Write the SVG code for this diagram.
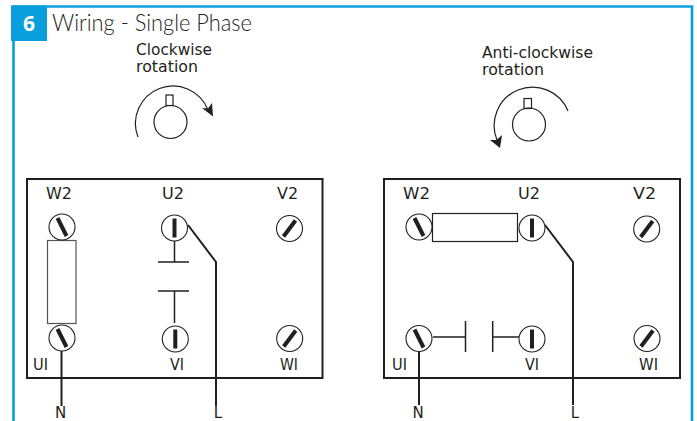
<svg xmlns="http://www.w3.org/2000/svg" width="697" height="421" viewBox="0 0 697 421">
<style>
.bx{fill:none;stroke:#231f20;stroke-width:2}
.w{fill:none;stroke:#231f20;stroke-width:2}
.t{fill:none;stroke:#231f20;stroke-width:1.2}
.sc{fill:#fff;stroke:#231f20;stroke-width:1.1}
.sl{stroke:#231f20;stroke-width:4;fill:none}
.ar{fill:#231f20}
text{font-family:"DejaVu Sans","Liberation Sans",sans-serif;fill:#231f20}
.lb{font-size:15px}
.cap{font-size:15.500px}
</style>
<defs>
<g id="sb"><circle class="sc" r="13"/><line class="sl" x1="-4.500" y1="-9" x2="4.500" y2="9"/></g>
<g id="sv"><circle class="sc" r="13"/><line class="sl" x1="0" y1="-9.500" x2="0" y2="9.500"/></g>
<g id="sf"><circle class="sc" r="13"/><line class="sl" x1="-6" y1="8" x2="6" y2="-8"/></g>
</defs>
<rect width="697" height="421" fill="#fff"/>
<g id="frame"><path d="M13.500 421V6.500H692V421" fill="none" stroke="#0a9fdc" stroke-width="2.600"/>
<rect x="11" y="5.500" width="36" height="35.500" fill="#0a9fdc"/>
<text x="29" y="31" font-size="21" font-weight="700" text-anchor="middle" style="font-family:'Open Sans',sans-serif;fill:#fff">6</text>
<text x="52" y="31" font-size="23" font-weight="300" textLength="200" lengthAdjust="spacingAndGlyphs" style="font-family:'Lato',sans-serif">Wiring - Single Phase</text></g>
<g id="cw"><text class="cap" x="136" y="55" textLength="76" lengthAdjust="spacingAndGlyphs">Clockwise</text><text class="cap" x="136" y="72" textLength="62" lengthAdjust="spacingAndGlyphs">rotation</text>
<circle class="t" cx="170.500" cy="122" r="16.500"/><rect class="t" x="166" y="95" width="7" height="10.500"/>
<path class="t" d="M138 137A37 37 0 1 1 208 110"/>
<path class="ar" d="M213 116.500L212 103L208 108.500L202 108Z"/></g>
<g id="acw"><text class="cap" x="482" y="58" textLength="111" lengthAdjust="spacingAndGlyphs">Anti-clockwise</text><text class="cap" x="482" y="75" textLength="62" lengthAdjust="spacingAndGlyphs">rotation</text>
<circle class="t" cx="529" cy="124.500" r="16.500"/><rect class="t" x="524" y="98.500" width="7.500" height="10"/>
<path class="t" d="M568 111A37 37 0 0 0 497 140"/>
<path class="ar" d="M500 148L490 140L496.500 140L502 135Z"/></g>
<g id="box-left"><rect class="bx" x="27" y="179" width="295.500" height="199"/>
<text class="lb" x="46" y="199" textLength="26" lengthAdjust="spacingAndGlyphs">W2</text><text class="lb" x="162" y="199" textLength="22" lengthAdjust="spacingAndGlyphs">U2</text><text class="lb" x="277" y="199" textLength="21" lengthAdjust="spacingAndGlyphs">V2</text>
<text class="lb" x="33" y="370" textLength="15" lengthAdjust="spacingAndGlyphs">UI</text><text class="lb" x="170" y="370" textLength="14" lengthAdjust="spacingAndGlyphs">VI</text><text class="lb" x="280" y="370" textLength="18" lengthAdjust="spacingAndGlyphs">WI</text></g>
<g id="box-right"><rect class="bx" x="384" y="179" width="296" height="199"/>
<text class="lb" x="403" y="199" textLength="27" lengthAdjust="spacingAndGlyphs">W2</text><text class="lb" x="518" y="199" textLength="22" lengthAdjust="spacingAndGlyphs">U2</text><text class="lb" x="633" y="199" textLength="23" lengthAdjust="spacingAndGlyphs">V2</text>
<text class="lb" x="392" y="370" textLength="15" lengthAdjust="spacingAndGlyphs">UI</text><text class="lb" x="525" y="370" textLength="14" lengthAdjust="spacingAndGlyphs">VI</text><text class="lb" x="639" y="370" textLength="19" lengthAdjust="spacingAndGlyphs">WI</text></g>
<g id="connectors">
<rect x="47.500" y="240.500" width="28.500" height="83" fill="none" stroke="#555" stroke-width="1.200"/>
<path class="t" style="stroke-width:1.500" d="M174.500 241V262M158 262H189M158 291H189M174.500 291V323"/>
<path class="w" d="M188 225L216 262V406M61.500 351V406"/>
<rect class="t" x="432.500" y="213.500" width="85" height="28"/>
<path class="t" style="stroke-width:1.500" d="M433 337H465.500M465.500 321V352M492.700 321V352M492.700 337H519"/>
<path class="w" d="M545 225L573 262V405M419 351V405"/>
</g>
<use id="l-w2" href="#sb" x="62" y="227"/><use id="l-u2" href="#sv" x="174.500" y="228"/><use id="l-v2" href="#sf" x="289.500" y="228.500"/>
<use id="l-u1" href="#sb" x="62" y="338"/><use id="l-v1" href="#sv" x="175.300" y="339"/><use id="l-w1" href="#sf" x="289.700" y="338.500"/>
<use id="r-w2" href="#sb" x="419" y="227"/><use id="r-u2" href="#sv" x="532" y="228"/><use id="r-v2" href="#sf" x="646.700" y="229"/>
<use id="r-u1" href="#sb" x="419" y="338.500"/><use id="r-v1" href="#sv" x="532" y="339"/><use id="r-w1" href="#sf" x="647" y="338.500"/>
<g id="terminals"><text x="60.500" y="417.500" font-size="15" text-anchor="middle">N</text><text x="218" y="417.500" font-size="15" text-anchor="middle">L</text><text x="418" y="417.500" font-size="15" text-anchor="middle">N</text><text x="575" y="417.500" font-size="15" text-anchor="middle">L</text></g>
</svg>
